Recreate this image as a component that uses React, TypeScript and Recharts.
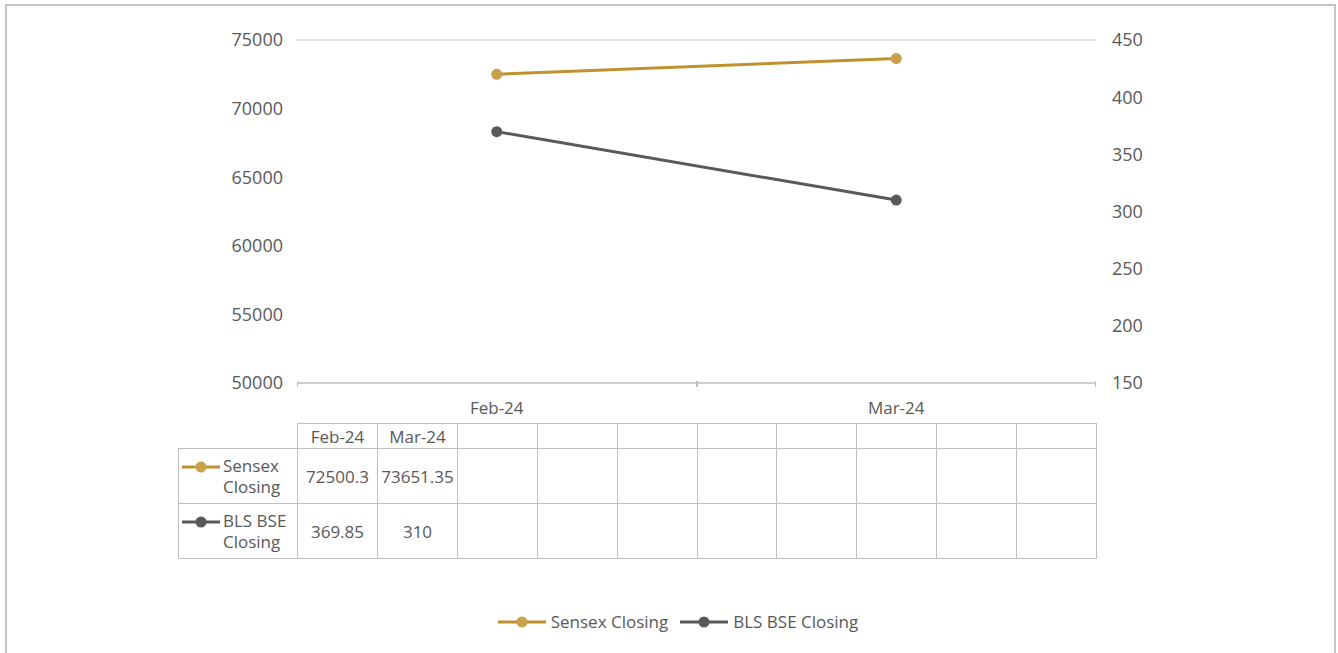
import React from "react";
import { LineChart, Line, XAxis, YAxis, CartesianGrid } from "recharts";

const months = ["Feb-24", "Mar-24"];
const sensexClosing = [72500.3, 73651.35];
const blsClosing = [369.85, 310];
const leftTicks = [50000, 55000, 60000, 65000, 70000, 75000];
const rightTicks = [150, 200, 250, 300, 350, 400, 450];
const tableLabels = ["Sensex Closing", "BLS BSE Closing"];
const emptyCols = 8;

const GOLD_LINE = "#bf922f";
const GOLD_DOT = "#c9a14c";
const GREY_LINE = "#595959";
const GREY_DOT = "#595959";
const TEXT = "#595959";
const FONT = "'Open Sans', Lato, sans-serif";

const data = months.map((m, i) => ({
  month: m,
  sensex: sensexClosing[i],
  bls: blsClosing[i],
}));

const series = [
  { key: "sensex", name: tableLabels[0], line: GOLD_LINE, dot: GOLD_DOT, values: sensexClosing },
  { key: "bls", name: tableLabels[1], line: GREY_LINE, dot: GREY_DOT, values: blsClosing },
];

// category tick: label at band centre, small marks at the band edges
const CategoryTick = (props: any) => {
  const { x, y, payload } = props;
  const half = payload && payload.offset ? payload.offset : 0;
  return (
    <g>
      {half > 0 && (
        <>
          <line x1={Math.round(x - half) + 0.5} x2={Math.round(x - half) + 0.5} y1={y - 10} y2={y - 4} stroke="#bfbfbf" />
          <line x1={Math.round(x + half) - 0.5} x2={Math.round(x + half) - 0.5} y1={y - 10} y2={y - 4} stroke="#bfbfbf" />
        </>
      )}
      <text x={x} y={y + 23} textAnchor="middle" fill={TEXT} fontSize={17} fontFamily={FONT}>
        {payload.value}
      </text>
    </g>
  );
};

const LegendIcon = ({ line, dot }: { line: string; dot: string }) => (
  <svg width={48} height={12} style={{ display: "block" }}>
    <line x1={0} x2={48} y1={6} y2={6} stroke={line} strokeWidth={3} />
    <circle cx={24} cy={6} r={5.5} fill={dot} />
  </svg>
);

const fmt = (v: number) => String(v);

export default function App() {
  const plotLeft = 297;
  const plotRight = 1096;
  const nCols = months.length + emptyCols;
  const colX = (i: number) => Math.round(plotLeft + ((plotRight - plotLeft) * i) / nCols);
  const cell = {
    position: "absolute" as const,
    boxSizing: "border-box" as const,
    border: "1px solid #bfbfbf",
    display: "flex",
    alignItems: "center",
    justifyContent: "center",
    color: TEXT,
    fontSize: 17,
    fontFamily: FONT,
  };
  const cols = [...months, ...Array(emptyCols).fill("")];

  return (
    <div style={{ position: "relative", width: 1338, height: 653, background: "#fff", overflow: "hidden" }}>
      <style>{`body{margin:0}`}</style>
      <div
        style={{
          position: "absolute",
          left: 5,
          top: 4,
          width: 1331,
          height: 700,
          border: "2px solid #c4c4c4",
          boxSizing: "border-box",
        }}
      />
      <div style={{ position: "absolute", left: 0, top: 0 }}>
        <LineChart width={1338} height={653} data={data} margin={{ top: 40, right: 142, left: 197, bottom: 233 }}>
          <CartesianGrid vertical={false} stroke="#bfbfbf" strokeWidth={1.2} />
          <XAxis
            dataKey="month"
            scale="band"
            height={37}
            axisLine={{ stroke: "#bfbfbf", strokeWidth: 1.2 }}
            tickLine={false}
            tick={<CategoryTick />}
            interval={0}
          />
          <YAxis
            yAxisId="left"
            width={100}
            domain={[50000, 75000]}
            ticks={leftTicks}
            axisLine={false}
            tickLine={false}
            tickSize={0}
            tickMargin={14}
            tick={{ fill: TEXT, fontSize: 18, fontFamily: FONT }}
          />
          <YAxis
            yAxisId="right"
            orientation="right"
            width={100}
            domain={[150, 450]}
            ticks={rightTicks}
            axisLine={false}
            tickLine={false}
            tickSize={0}
            tickMargin={16}
            tick={{ fill: TEXT, fontSize: 18, fontFamily: FONT }}
          />
          <Line
            yAxisId="left"
            dataKey="sensex"
            name="Sensex Closing"
            stroke={GOLD_LINE}
            strokeWidth={3}
            dot={{ r: 5.5, fill: GOLD_DOT, stroke: GOLD_DOT, strokeWidth: 0 }}
            isAnimationActive={false}
          />
          <Line
            yAxisId="right"
            dataKey="bls"
            name="BLS BSE Closing"
            stroke={GREY_LINE}
            strokeWidth={3}
            dot={{ r: 5.5, fill: GREY_DOT, stroke: GREY_DOT, strokeWidth: 0 }}
            isAnimationActive={false}
          />
        </LineChart>
      </div>

      {/* data table */}
      {cols.map((c, i) => (
        <div
          key={"h" + i}
          style={{ ...cell, left: colX(i), top: 423, width: colX(i + 1) - colX(i) + 1, height: 26 }}
        >
          {c}
        </div>
      ))}
      {series.map((s, r) => (
        <React.Fragment key={s.key}>
          <div
            style={{
              ...cell,
              left: 178,
              top: 448 + r * 55,
              width: plotLeft - 178 + 1,
              height: 56,
              justifyContent: "flex-start",
              paddingLeft: 3,
            }}
          >
            <svg width={38} height={12} style={{ display: "block", flex: "none", marginTop: -18 }}>
              <line x1={0} x2={38} y1={6} y2={6} stroke={s.line} strokeWidth={3} />
              <circle cx={19} cy={6} r={5.5} fill={s.dot} />
            </svg>
            <div style={{ lineHeight: "21px", marginLeft: 3 }}>
              {s.name.split(" ").slice(0, -1).join(" ")}
              <br />
              {s.name.split(" ").slice(-1)[0]}
            </div>
          </div>
          {cols.map((_, i) => (
            <div
              key={s.key + i}
              style={{ ...cell, left: colX(i), top: 448 + r * 55, width: colX(i + 1) - colX(i) + 1, height: 56 }}
            >
              {i < s.values.length ? fmt(s.values[i]) : ""}
            </div>
          ))}
        </React.Fragment>
      ))}

      {/* legend */}
      <div
        style={{
          position: "absolute",
          top: 610,
          left: 0,
          width: 1338,
          display: "flex",
          justifyContent: "center",
          alignItems: "center",
          fontFamily: FONT,
          fontSize: 17,
          color: TEXT,
          paddingLeft: 30,
          boxSizing: "border-box",
        }}
      >
        {series.map((s) => (
          <div key={s.key} style={{ display: "flex", alignItems: "center", marginRight: 12 }}>
            <LegendIcon line={s.line} dot={s.dot} />
            <span style={{ marginLeft: 5 }}>{s.name}</span>
          </div>
        ))}
      </div>
    </div>
  );
}
